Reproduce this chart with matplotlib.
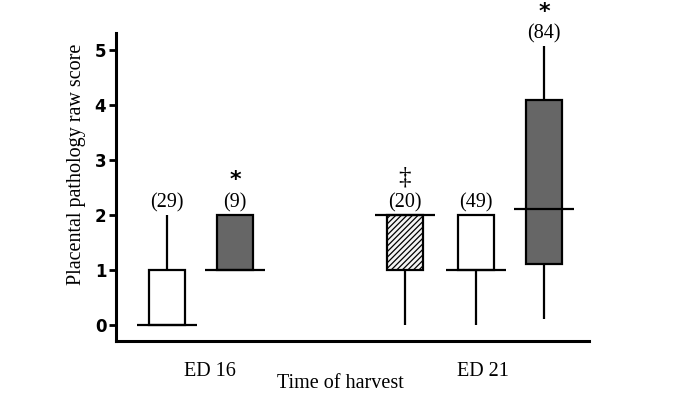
import matplotlib
matplotlib.use("Agg")
import matplotlib.pyplot as plt
import numpy as np

# ---- data ----
groups = ["ED 16", "ED 21"]
positions = [1.0, 2.0, 4.5, 5.55, 6.55]
q1 = [0.0, 1.0, 1.0, 1.0, 1.11]
q3 = [1.0, 2.0, 2.0, 2.0, 4.09]
medians = [0.0, 1.0, 2.0, 1.0, 2.11]
whisk_low = [0.0, 1.0, 0.0, 0.0, 0.11]
whisk_high = [2.0, 2.0, 2.0, 2.0, 5.07]
n_labels = ["(29)", "(9)", "(20)", "(49)", "(84)"]
marks = ["", "*", "\u2021", "", "*"]
group_label_x = [1.63, 5.65]
yticks = [0, 1, 2, 3, 4, 5]

facecolors = ["white", "#666666", "#f4f4f4", "white", "#666666"]
hatches = [None, None, "//////", None, None]

plt.rcParams["hatch.color"] = "#9a9a9a"
plt.rcParams["hatch.linewidth"] = 0.9

fig = plt.figure(figsize=(6.75, 4.0), dpi=100)
ax = fig.add_axes([116/675, 59/400, 473/675, 308/400])

serif = "Liberation Serif"
box_w = 0.53
med_w = 0.88
lw = 1.6

for i, x in enumerate(positions):
    # whiskers
    if whisk_low[i] < q1[i]:
        ax.vlines(x, whisk_low[i], q1[i], color="black", lw=lw, zorder=2)
    if whisk_high[i] > q3[i]:
        ax.vlines(x, q3[i], whisk_high[i], color="black", lw=lw, zorder=2)
    # box
    if q3[i] > q1[i]:
        ax.bar(x, q3[i] - q1[i], bottom=q1[i], width=box_w, facecolor=facecolors[i],
               edgecolor="black", linewidth=lw, hatch=hatches[i], zorder=3)
    # median
    ax.hlines(medians[i], x - med_w/2, x + med_w/2, color="black", lw=lw, zorder=4)
    # n label
    top = max(whisk_high[i], q3[i])
    ax.text(x, top + 0.22, n_labels[i], ha="center", va="center", fontsize=14.5,
            family=serif, clip_on=False)
    if marks[i] == "*":
        ax.text(x, top + 0.63, "*", ha="center", va="center", fontsize=16,
                fontweight="bold", family="DejaVu Sans", clip_on=False)
    elif marks[i]:
        ax.text(x, top + 0.69, marks[i], ha="center", va="center", fontsize=18,
                family=serif, clip_on=False)

ax.set_xlim(0.25, 7.21)
ax.set_ylim(-0.29, 5.31)
ax.set_yticks(yticks)
ax.set_yticklabels([str(t) for t in yticks], fontweight="bold", fontsize=12,
                   family="DejaVu Sans")
ax.tick_params(axis="y", length=5, width=2, pad=2)
ax.set_xticks(group_label_x)
ax.set_xticklabels(groups, fontsize=14.5, family=serif)
ax.tick_params(axis="x", length=0, pad=15)

for s in ["top", "right"]:
    ax.spines[s].set_visible(False)
for s in ["left", "bottom"]:
    ax.spines[s].set_linewidth(2.2)

ax.set_xlabel("Time of harvest", fontsize=14.5, family=serif)
ax.xaxis.set_label_coords((340-116)/473, (341-383)/308)
ax.xaxis.label.set_va("center")

fig.text(77/675, 1 - 164/400, "Placental pathology raw score", rotation=90,
         ha="center", va="center", fontsize=14.5, family=serif)

fig.savefig("out.png", dpi=100)
